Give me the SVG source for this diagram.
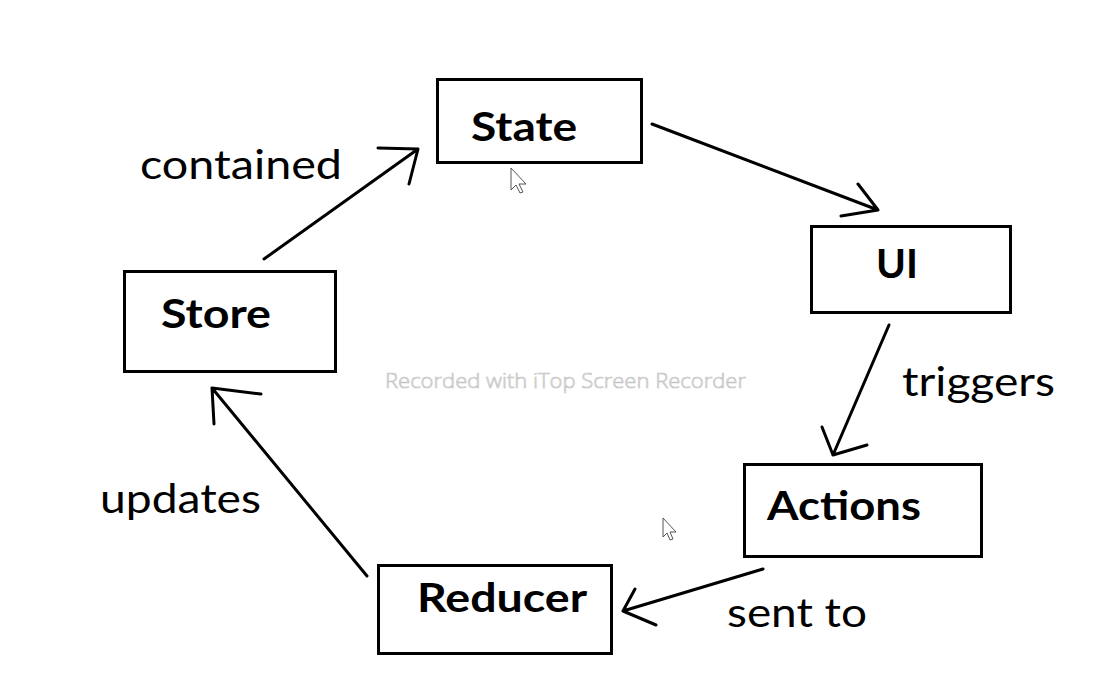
<svg xmlns="http://www.w3.org/2000/svg" width="1114" height="698" viewBox="0 0 1114 698">
<style>
.box{fill:#ffffff;stroke:#000000;stroke-width:3}
.title{font-family:Lato,"Liberation Sans",sans-serif;font-weight:700;font-size:41px;fill:#000000}
.lbl{font-family:Lato,"Liberation Sans",sans-serif;font-weight:400;font-size:41px;fill:#000000}
.conn{fill:none;stroke:#000000;stroke-width:3;stroke-linecap:round;stroke-linejoin:round}
.wm{font-family:"Open Sans","Liberation Sans",sans-serif;font-weight:300;font-size:20px;fill:#ffffff;stroke:#c4c4c4;stroke-width:0.7}
.cur{fill:#ffffff;stroke:#555555;stroke-width:1}
</style>
<rect width="1114" height="698" fill="#ffffff"/>
<g id="connectors">
<path class="conn" d="M264,259 L418,149 M378,148 L418,149 L409,184"/>
<path class="conn" d="M652,124 L878,210 M858,184 L878,210 L841,216"/>
<path class="conn" d="M889,325 L833,455 M822,427 L833,455 L867,445"/>
<path class="conn" d="M763,569 L623,611 M635,589 L623,611 L656,625"/>
<path class="conn" d="M367,576 L212,388 M261,394 L212,388 L214,424"/>
</g>
<g id="labels">
<text class="lbl" x="140" y="179" textLength="202" lengthAdjust="spacingAndGlyphs">contained</text>
<text class="lbl" x="902" y="396" textLength="153" lengthAdjust="spacingAndGlyphs">triggers</text>
<text class="lbl" x="100" y="513" textLength="161" lengthAdjust="spacingAndGlyphs">updates</text>
<text class="lbl" x="727" y="627" textLength="140" lengthAdjust="spacingAndGlyphs">sent to</text>
</g>
<g id="state">
<rect class="box" x="437.5" y="79.5" width="204" height="83"/>
<text class="title" x="471" y="141" textLength="106" lengthAdjust="spacingAndGlyphs">State</text>
</g>
<g id="ui">
<rect class="box" x="811.5" y="226.5" width="199" height="86"/>
<text class="title" x="876" y="278" textLength="42" lengthAdjust="spacingAndGlyphs">UI</text>
</g>
<g id="store">
<rect class="box" x="124.5" y="271.5" width="211" height="100"/>
<text class="title" x="161" y="328" textLength="110" lengthAdjust="spacingAndGlyphs">Store</text>
</g>
<g id="actions">
<rect class="box" x="744.5" y="464.5" width="237" height="92"/>
<text class="title" x="767" y="520" textLength="154" lengthAdjust="spacingAndGlyphs">Actions</text>
</g>
<g id="reducer">
<rect class="box" x="378.5" y="565.5" width="233" height="88"/>
<text class="title" x="417" y="612" textLength="170" lengthAdjust="spacingAndGlyphs">Reducer</text>
</g>
<text class="wm" x="385" y="388" textLength="361" lengthAdjust="spacingAndGlyphs">Recorded with iTop Screen Recorder</text>
<path class="cur" d="M511,168 L511,190 L516,185 L520,193 L523,192 L519,184 L526,184 Z"/>
<path class="cur" d="M663,518 L663,537 L667,533 L670,540 L673,539 L670,532 L676,532 Z"/>
</svg>
